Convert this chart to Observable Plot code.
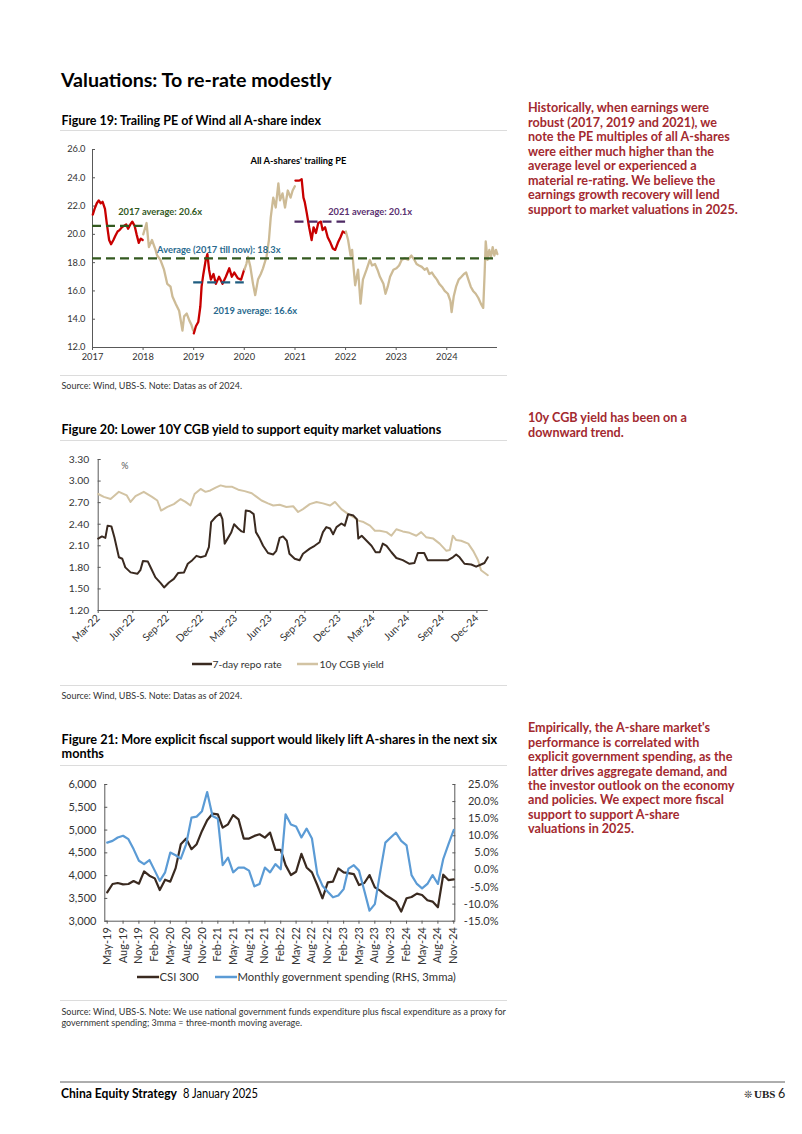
<!DOCTYPE html>
<html><head><meta charset="utf-8">
<script src="https://cdn.jsdelivr.net/npm/d3@7"></script>
<script src="https://cdn.jsdelivr.net/npm/@observablehq/plot@0.6"></script>
<style>
html,body{margin:0;padding:0;background:#fff;}
#page{position:relative;width:802px;height:1134px;overflow:hidden;font-family:Lato,"Open Sans",sans-serif;}
.chart{position:absolute;}
#overlay{position:absolute;left:0;top:0;}
</style></head>
<body><div id="page">
<svg id="overlay" width="802" height="1134" font-family="Lato, 'Open Sans', sans-serif">
  <text x="61" y="86.5" font-size="19.6" font-weight="700" fill="#000">Valuations: To re-rate modestly</text>
  <text x="61.5" y="125" font-size="12.5" font-weight="700" fill="#000">Figure 19: Trailing PE of Wind all A-share index</text>
  <line x1="60" x2="507" y1="130.5" y2="130.5" stroke="#dcdcdc"/>
  <line x1="60" x2="507" y1="375.5" y2="375.5" stroke="#dcdcdc"/>
  <text x="61.5" y="389" font-size="9" fill="#333">Source: Wind, UBS-S. Note: Datas as of 2024.</text>

  <text x="61.5" y="434" font-size="12.6" font-weight="700" fill="#000">Figure 20: Lower 10Y CGB yield to support equity market valuations</text>
  <line x1="60" x2="507" y1="440.5" y2="440.5" stroke="#dcdcdc"/>
  <line x1="192" x2="212" y1="664" y2="664" stroke="#3a2a20" stroke-width="2.5"/>
  <text x="212.5" y="667.5" font-size="10.3" fill="#333">7-day repo rate</text>
  <line x1="297" x2="318" y1="664" y2="664" stroke="#d2c3a3" stroke-width="2.5"/>
  <text x="319.5" y="667.5" font-size="10.3" fill="#333">10y CGB yield</text>
  <line x1="60" x2="507" y1="685.5" y2="685.5" stroke="#dcdcdc"/>
  <text x="61.5" y="699" font-size="9" fill="#333">Source: Wind, UBS-S. Note: Datas as of 2024.</text>

  <text x="61.5" y="744" font-size="12.7" font-weight="700" fill="#000">Figure 21: More explicit fiscal support would likely lift A-shares in the next six</text>
  <text x="61.5" y="758" font-size="12.7" font-weight="700" fill="#000">months</text>
  <line x1="60" x2="507" y1="765.5" y2="765.5" stroke="#dcdcdc"/>
  <line x1="137" x2="159" y1="977" y2="977" stroke="#3a2a20" stroke-width="2.5"/>
  <text x="159.5" y="980.5" font-size="11.3" fill="#333">CSI 300</text>
  <line x1="215" x2="237" y1="977" y2="977" stroke="#5b9bd5" stroke-width="2.5"/>
  <text x="237.5" y="980.5" font-size="11.3" fill="#333">Monthly government spending (RHS, 3mma)</text>
  <line x1="60" x2="507" y1="1000.5" y2="1000.5" stroke="#dcdcdc"/>
  <text x="61.5" y="1015" font-size="9" fill="#333">Source: Wind, UBS-S. Note: We use national government funds expenditure plus fiscal expenditure as a proxy for</text>
  <text x="61.5" y="1026" font-size="9" fill="#333">government spending; 3mma = three-month moving average.</text>

  <g font-size="12.6" font-weight="700" fill="#a32a30">
    <text x="528" y="112.3">Historically, when earnings were</text>
    <text x="528" y="126.8">robust (2017, 2019 and 2021), we</text>
    <text x="528" y="141.3">note the PE multiples of all A-shares</text>
    <text x="528" y="155.8">were either much higher than the</text>
    <text x="528" y="170.3">average level or experienced a</text>
    <text x="528" y="184.8">material re-rating. We believe the</text>
    <text x="528" y="199.3">earnings growth recovery will lend</text>
    <text x="528" y="213.8">support to market valuations in 2025.</text>
    <text x="528" y="422">10y CGB yield has been on a</text>
    <text x="528" y="436.5">downward trend.</text>
    <text x="528" y="732.3">Empirically, the A-share market's</text>
    <text x="528" y="746.7">performance is correlated with</text>
    <text x="528" y="761.1">explicit government spending, as the</text>
    <text x="528" y="775.5">latter drives aggregate demand, and</text>
    <text x="528" y="789.9">the investor outlook on the economy</text>
    <text x="528" y="804.3">and policies. We expect more fiscal</text>
    <text x="528" y="818.7">support to support A-share</text>
    <text x="528" y="833.1">valuations in 2025.</text>
  </g>

  <line x1="60" x2="785" y1="1082" y2="1082" stroke="#333" stroke-width="0.8"/>
  <text x="61" y="1098" font-size="12.5" font-weight="700" textLength="116" lengthAdjust="spacingAndGlyphs" fill="#000">China Equity Strategy</text>
  <text x="183" y="1098" font-size="12.5" textLength="75" lengthAdjust="spacingAndGlyphs" fill="#000">8 January 2025</text>
  <text x="744" y="1098" font-size="10" font-family="'DejaVu Sans',sans-serif" fill="#222">❊</text>
  <text x="754" y="1098" font-size="11" font-weight="700" font-family="'Liberation Serif',serif" fill="#222">UBS</text>
  <text x="778" y="1098" font-size="12.5" fill="#222">6</text>
</svg>
<div id="c1" class="chart" style="left:55px;top:140px"></div>
<div id="c2" class="chart" style="left:55px;top:450px"></div>
<div id="c3" class="chart" style="left:55px;top:775px"></div>
</div>
<script>
// ================= Figure 19: trailing PE =================
const peDates = [
"2017-01-03","2017-01-16","2017-02-01","2017-02-15","2017-03-01","2017-03-15","2017-04-01","2017-04-15","2017-05-01","2017-05-15","2017-06-01","2017-06-15","2017-07-01","2017-07-15","2017-08-01","2017-08-15","2017-09-01","2017-09-15","2017-10-01","2017-10-15","2017-11-01","2017-11-15","2017-12-01","2017-12-15","2017-12-29",
"2018-01-02","2018-01-26","2018-02-12","2018-03-06","2018-04-01","2018-04-12","2018-05-06","2018-06-01","2018-06-24","2018-07-18","2018-08-01","2018-08-24","2018-09-18","2018-10-12","2018-10-24","2018-11-12","2018-12-01","2018-12-16","2018-12-28",
"2019-01-02","2019-01-17","2019-02-03","2019-02-18","2019-02-27","2019-03-12","2019-03-29","2019-04-10","2019-04-22","2019-05-05","2019-05-24","2019-06-10","2019-07-03","2019-07-28","2019-08-21","2019-09-15","2019-10-03","2019-10-21","2019-11-15","2019-12-09","2019-12-31",
"2020-01-02","2020-01-16","2020-01-28","2020-02-14","2020-03-04","2020-03-20","2020-04-09","2020-04-29","2020-05-15","2020-06-09","2020-06-27","2020-07-10","2020-07-28","2020-08-15","2020-09-03","2020-09-15","2020-10-03","2020-10-21","2020-11-10","2020-11-30","2020-12-15","2020-12-31",
"2021-01-04","2021-02-01","2021-02-18","2021-03-03","2021-03-12","2021-03-27","2021-04-13","2021-05-01","2021-05-15","2021-06-01","2021-06-18","2021-07-07","2021-07-19","2021-08-06","2021-08-25","2021-09-14","2021-10-01","2021-10-18","2021-11-06","2021-11-25","2021-12-12","2021-12-31",
"2022-01-03","2022-01-19","2022-02-06","2022-02-17","2022-03-01","2022-03-11","2022-04-01","2022-04-19","2022-05-06","2022-06-01","2022-06-25","2022-07-11","2022-08-01","2022-08-19","2022-09-06","2022-10-01","2022-10-16","2022-11-01","2022-11-18","2022-12-12",
"2023-01-03","2023-01-22","2023-02-10","2023-03-04","2023-03-28","2023-04-21","2023-05-12","2023-05-28","2023-06-15","2023-07-05","2023-07-25","2023-08-11","2023-08-28","2023-09-16","2023-10-06","2023-10-22","2023-11-08","2023-11-27","2023-12-17",
"2024-01-09","2024-01-27","2024-02-05","2024-02-20","2024-03-08","2024-03-27","2024-04-16","2024-05-04","2024-05-20","2024-06-05","2024-06-22","2024-07-09","2024-07-28","2024-08-16","2024-09-03","2024-09-20","2024-09-30","2024-10-08","2024-10-21","2024-11-03","2024-11-15","2024-11-27","2024-12-09","2024-12-21","2024-12-31"];
const peValues = [
21.4,21.8,22.2,22.4,22.2,22.3,21.8,20.7,19.6,19.3,19.6,19.9,20.2,20.3,20.5,20.6,20.7,20.4,20.7,20.9,20.6,20.0,19.4,19.7,19.6,
20.0,20.8,19.1,19.6,18.9,18.5,18.2,17.5,16.5,16.3,15.6,15.1,14.6,13.2,14.2,14.4,13.9,13.6,13.2,
13.0,13.5,13.8,14.9,16.3,17.2,18.2,18.6,17.5,16.8,17.2,16.5,17.0,16.5,17.0,17.6,17.0,17.3,16.9,16.8,17.5,
17.5,17.9,18.4,17.7,16.5,15.7,16.8,17.2,17.6,18.4,19.6,21.2,22.6,21.9,23.6,22.4,22.9,21.9,23.1,22.6,23.1,23.4,
23.8,23.8,23.9,22.6,22.3,21.5,20.5,19.6,20.5,20.1,20.8,20.9,20.3,20.5,19.8,19.4,19.0,18.9,19.4,19.8,20.2,20.1,
20.2,19.6,18.5,18.9,17.5,16.4,17.5,15.1,16.8,17.5,18.2,17.8,17.9,17.5,17.0,16.5,15.8,16.3,17.0,17.5,
17.6,17.8,18.2,18.3,18.2,18.5,18.2,17.9,17.8,17.7,17.5,17.6,17.2,17.3,17.0,16.8,16.5,16.3,16.0,
15.8,15.3,14.5,15.6,16.3,16.8,17.0,17.2,17.3,16.8,16.3,16.0,15.8,15.5,15.1,14.8,17.2,19.5,18.2,18.9,18.4,19.1,18.5,18.9,18.6];
const highlightYears = [2017, 2019, 2021];
const peYearTicks = ["2017","2018","2019","2020","2021","2022","2023","2024"];
const peAxisTicks = [12,14,16,18,20,22,24,26];
const avgNames = ["2017 average: 20.6x","Average (2017 till now): 18.3x","2019 average: 16.6x","2021 average: 20.1x"];
const avgLevels = [20.6, 18.3, 16.6, 20.9];
const avgFrom = ["2017-01-01","2017-01-01","2019-01-01","2021-01-01"];
const avgTo = ["2018-01-01","2024-12-24","2020-01-01","2022-01-01"];
const peChartTitle = "All A-shares' trailing PE";

// ================= Figure 20: repo vs CGB =================
const repoDates = ["2022-03-01","2022-03-11","2022-03-20","2022-03-26","2022-04-05","2022-04-13","2022-04-25","2022-05-04","2022-05-12","2022-05-26","2022-06-13","2022-06-21","2022-06-28","2022-07-11","2022-07-20","2022-07-31","2022-08-14","2022-08-23","2022-09-05","2022-09-18","2022-09-29","2022-10-15","2022-10-25","2022-11-06","2022-11-17","2022-11-28","2022-12-11","2022-12-20","2022-12-26","2023-01-07","2023-01-19","2023-01-25","2023-01-31","2023-02-09","2023-02-17","2023-02-25","2023-03-08","2023-03-17","2023-03-23","2023-03-28","2023-04-08","2023-04-18","2023-04-24","2023-05-04","2023-05-13","2023-05-26","2023-06-09","2023-06-17","2023-06-26","2023-07-05","2023-07-15","2023-07-22","2023-08-05","2023-08-18","2023-08-27","2023-09-14","2023-09-27","2023-10-10","2023-10-19","2023-10-28","2023-11-07","2023-11-15","2023-11-24","2023-12-07","2023-12-16","2023-12-25","2024-01-08","2024-01-17","2024-01-21","2024-01-30","2024-02-12","2024-02-25","2024-03-07","2024-03-18","2024-03-26","2024-04-05","2024-04-18","2024-05-01","2024-05-18","2024-06-05","2024-06-18","2024-06-27","2024-07-14","2024-07-23","2024-08-15","2024-09-15","2024-09-28","2024-10-07","2024-10-16","2024-10-29","2024-11-16","2024-11-29","2024-12-12","2024-12-21","2024-12-30"];
const repoValues = [2.20,2.23,2.21,2.38,2.37,2.22,1.94,1.92,1.80,1.73,1.71,1.76,1.89,1.88,1.78,1.66,1.58,1.52,1.59,1.64,1.72,1.73,1.85,1.90,1.96,1.94,1.96,2.08,2.43,2.50,2.55,2.47,2.13,2.21,2.28,2.40,2.34,2.30,2.29,2.59,2.58,2.54,2.29,2.20,2.10,2.00,1.98,2.03,2.21,2.23,2.17,1.99,1.92,1.90,1.99,2.06,2.10,2.15,2.29,2.36,2.34,2.26,2.36,2.41,2.38,2.54,2.52,2.47,2.20,2.24,2.17,2.10,2.01,2.01,2.13,2.10,2.01,1.93,1.90,1.85,1.86,2.00,2.00,1.90,1.90,1.90,1.94,1.98,1.94,1.85,1.84,1.81,1.84,1.86,1.94];
const cgbDates = ["2022-03-01","2022-03-16","2022-04-03","2022-04-25","2022-05-16","2022-05-26","2022-06-08","2022-06-30","2022-07-22","2022-08-05","2022-08-15","2022-09-01","2022-09-18","2022-10-06","2022-10-19","2022-11-01","2022-11-12","2022-11-28","2022-12-11","2022-12-24","2023-01-07","2023-01-20","2023-02-03","2023-02-20","2023-03-08","2023-03-25","2023-04-13","2023-04-26","2023-05-09","2023-05-26","2023-06-09","2023-06-26","2023-07-14","2023-08-01","2023-08-14","2023-08-27","2023-09-14","2023-10-02","2023-10-19","2023-11-07","2023-11-20","2023-12-07","2023-12-25","2024-01-08","2024-01-21","2024-02-04","2024-02-21","2024-03-05","2024-03-18","2024-04-05","2024-04-18","2024-05-01","2024-05-18","2024-06-05","2024-06-23","2024-07-06","2024-07-19","2024-08-07","2024-08-24","2024-09-11","2024-09-20","2024-09-28","2024-10-07","2024-10-20","2024-11-08","2024-11-21","2024-12-04","2024-12-12","2024-12-30"];
const cgbValues = [2.82,2.78,2.75,2.85,2.80,2.71,2.79,2.85,2.78,2.73,2.59,2.64,2.68,2.75,2.71,2.66,2.82,2.89,2.85,2.87,2.91,2.94,2.92,2.92,2.88,2.86,2.83,2.78,2.73,2.69,2.66,2.67,2.64,2.65,2.57,2.61,2.68,2.71,2.69,2.66,2.71,2.61,2.54,2.50,2.45,2.43,2.38,2.31,2.31,2.29,2.24,2.33,2.30,2.28,2.24,2.29,2.22,2.20,2.13,2.03,2.04,2.24,2.18,2.17,2.13,2.03,1.90,1.76,1.69];
const yieldTicks = [1.2,1.5,1.8,2.1,2.4,2.7,3.0,3.3];
const quarterTicks = ["Mar-22","Jun-22","Sep-22","Dec-22","Mar-23","Jun-23","Sep-23","Dec-23","Mar-24","Jun-24","Sep-24","Dec-24"];

// ================= Figure 21: CSI 300 vs spending =================
const months = ["May-19","Jun-19","Jul-19","Aug-19","Sep-19","Oct-19","Nov-19","Dec-19","Jan-20","Feb-20","Mar-20","Apr-20","May-20","Jun-20","Jul-20","Aug-20","Sep-20","Oct-20","Nov-20","Dec-20","Jan-21","Feb-21","Mar-21","Apr-21","May-21","Jun-21","Jul-21","Aug-21","Sep-21","Oct-21","Nov-21","Dec-21","Jan-22","Feb-22","Mar-22","Apr-22","May-22","Jun-22","Jul-22","Aug-22","Sep-22","Oct-22","Nov-22","Dec-22","Jan-23","Feb-23","Mar-23","Apr-23","May-23","Jun-23","Jul-23","Aug-23","Sep-23","Oct-23","Nov-23","Dec-23","Jan-24","Feb-24","Mar-24","Apr-24","May-24","Jun-24","Jul-24","Aug-24","Sep-24","Oct-24","Nov-24"];
const csi300 = [3634,3816,3838,3809,3816,3882,3823,4093,3998,3940,3685,3911,3867,4165,4690,4813,4580,4690,4981,5214,5359,5345,5054,5126,5330,5236,4813,4813,4872,4908,4835,4944,4566,4566,4231,4013,4085,4478,4180,4071,3794,3503,3852,3867,4158,4071,4056,4034,3794,3838,4013,3743,3670,3576,3503,3430,3212,3503,3532,3605,3576,3459,3430,3306,4020,3903,3918];
const govSpending = [8.0,8.5,9.5,10.0,9.0,6.1,2.7,1.7,2.9,-0.2,-3.2,-0.7,5.1,4.3,3.3,7.5,15.3,15.6,17.2,22.8,15.8,15.0,1.4,3.6,-0.7,0.7,0.7,-0.2,-4.8,-4.1,0.7,-0.7,1.7,0.2,16.3,13.3,12.7,9.5,12.1,9.2,-1.2,-4.6,-6.4,-8.0,-7.5,-5.6,0.4,1.4,-0.2,-6.1,-11.9,-10.0,-0.7,8.0,9.5,10.9,8.5,7.2,-1.5,-4.1,-5.4,-4.1,-1.5,-4.1,3.2,7.5,11.7];
const csiTicks = [3000,3500,4000,4500,5000,5500,6000];
const rhsTicks = [-15,-10,-5,0,5,10,15,20,25];
const monthTicks = ["May-19","Aug-19","Nov-19","Feb-20","May-20","Aug-20","Nov-20","Feb-21","May-21","Aug-21","Nov-21","Feb-22","May-22","Aug-22","Nov-22","Feb-23","May-23","Aug-23","Nov-23","Feb-24","May-24","Aug-24","Nov-24"];

// ================= styles =================
const RED = "#c80000", TAN = "#cdbb96";
const avgColors = ["#33591f","#33591f","#1f5d80","#4e2a64"];
const avgLabelColors = ["#33591f","#2a6a8e","#2a6a8e","#5a3070"];
const avgLabelX = ["2017-07-05","2018-04-12","2019-05-22","2021-08-28"];
const avgLabelY = [21.55, 18.86, 14.61, 21.55];
const FONT = "Lato, 'Open Sans', sans-serif";
const AXIS = "#595959";

const d = s => new Date(s);
const pm = d3.utcParse("%b-%y");

// ---------- Chart 1 ----------
{
  const rows = peDates.map((s,i) => ({date: d(s), pe: peValues[i]}));
  let seg = 0, prev = null;
  for (const r of rows) {
    const y = r.date.getUTCFullYear();
    const hl = highlightYears.includes(y);
    const key = hl ? "h" + y : "base";
    if (key !== prev) { seg++; prev = key; }
    r.seg = seg; r.color = hl ? RED : TAN;
  }
  const avgRows = avgNames.map((n,i) => ({name: n, level: avgLevels[i], from: d(avgFrom[i]), to: d(avgTo[i]),
    color: avgColors[i], lcolor: avgLabelColors[i], lx: d(avgLabelX[i]), ly: avgLabelY[i]}));
  const x0 = d("2017-01-01"), x1 = d("2025-01-01");
  const p = Plot.plot({
    width: 450, height: 225, marginLeft: 37, marginRight: 8, marginTop: 9, marginBottom: 18,
    style: {fontFamily: FONT, fontSize: "9.3px", color: "#333", background: "none", overflow: "visible"},
    x: {type: "utc", domain: [x0, x1]},
    y: {domain: [12, 26]},
    color: {type: "identity"},
    marks: [
      Plot.axisY({ticks: peAxisTicks, tickFormat: v => v.toFixed(1), tickSize: -3, tickPadding: 10, label: null, stroke: AXIS}),
      Plot.axisX({ticks: peYearTicks.map(s => d(s + "-01-01")), tickFormat: "%Y", tickSize: 3, tickPadding: 3, label: null, stroke: AXIS}),
      Plot.ruleX([x0], {stroke: AXIS}),
      Plot.ruleY([12], {stroke: AXIS}),
      Plot.line(rows, {x: "date", y: "pe", z: "seg", stroke: "color", strokeWidth: 2.3}),
      Plot.ruleY(avgRows, {y: "level", x1: "from", x2: "to", stroke: "color", strokeWidth: 2.2, strokeDasharray: "9,5"}),
      Plot.text(avgRows, {x: "lx", y: "ly", text: "name", fill: "lcolor", textAnchor: "start", fontWeight: "bold", fontSize: 9.3}),
      Plot.text([peChartTitle], {x: d("2021-01-26"), y: 25.22, text: t => t, fill: "#000", fontWeight: "bold", fontSize: 9.3})
    ]
  });
  document.getElementById("c1").append(p);
}

// ---------- Chart 2 ----------
{
  const repo = repoDates.map((s,i) => ({date: d(s), v: repoValues[i]}));
  const cgb = cgbDates.map((s,i) => ({date: d(s), v: cgbValues[i]}));
  const x0 = d("2022-03-01"), x1 = d("2024-12-31");
  const p = Plot.plot({
    width: 450, height: 195, marginLeft: 42.7, marginRight: 17.3, marginTop: 9, marginBottom: 35,
    style: {fontFamily: FONT, fontSize: "10.3px", color: "#333", background: "none", overflow: "visible"},
    x: {type: "utc", domain: [x0, x1]},
    y: {domain: [1.2, 3.3]},
    marks: [
      Plot.axisY({ticks: yieldTicks, tickFormat: v => v.toFixed(2), tickSize: -3, tickPadding: 12, label: null, stroke: AXIS}),
      Plot.axisX({ticks: quarterTicks.map(pm), tickFormat: d3.utcFormat("%b-%y"), tickRotate: -45, tickSize: 3, tickPadding: 3, label: null, stroke: AXIS}),
      Plot.ruleX([x0], {stroke: AXIS}),
      Plot.ruleY([1.2], {stroke: AXIS}),
      Plot.line(cgb, {x: "date", y: "v", stroke: "#d2c3a3", strokeWidth: 2}),
      Plot.line(repo, {x: "date", y: "v", stroke: "#3a2a20", strokeWidth: 2}),
      Plot.text(["%"], {frameAnchor: "top-left", dx: 23, dy: 3, fontSize: 9, fill: "#555"})
    ]
  });
  document.getElementById("c2").append(p);
}

// ---------- Chart 3 ----------
{
  const lo = csiTicks[0], hi = csiTicks[csiTicks.length - 1];
  const rlo = rhsTicks[0], rhi = rhsTicks[rhsTicks.length - 1];
  const toLeft = v => lo + (v - rlo) / (rhi - rlo) * (hi - lo);
  const fromLeft = v => rlo + (v - lo) / (hi - lo) * (rhi - rlo);
  const rows = months.map((m,i) => ({date: pm(m), csi: csi300[i], gov: toLeft(govSpending[i])}));
  const x0 = d("2019-04-17"), x1 = d("2024-11-07");
  const p = Plot.plot({
    width: 450, height: 190, marginLeft: 49.3, marginRight: 50.7, marginTop: 9, marginBottom: 44.3,
    style: {fontFamily: FONT, fontSize: "11px", color: "#333", background: "none", overflow: "visible"},
    x: {type: "utc", domain: [x0, x1]},
    y: {domain: [lo, hi]},
    marks: [
      Plot.axisY({ticks: csiTicks, tickFormat: d3.format(","), tickSize: -3, tickPadding: 11.3, label: null, stroke: AXIS}),
      Plot.axisY({anchor: "right", ticks: rhsTicks.map(toLeft), tickFormat: v => fromLeft(v).toFixed(1) + "%", tickSize: -3, tickPadding: 46.7, textAnchor: "end", label: null, stroke: AXIS}),
      Plot.axisX({ticks: monthTicks.map(pm), tickFormat: d3.utcFormat("%b-%y"), tickRotate: -90, tickSize: 3, tickPadding: 3, label: null, stroke: AXIS}),
      Plot.ruleX([x0, x1], {stroke: AXIS}),
      Plot.ruleY([lo], {stroke: AXIS}),
      Plot.line(rows, {x: "date", y: "csi", stroke: "#3a2a20", strokeWidth: 2.2}),
      Plot.line(rows, {x: "date", y: "gov", stroke: "#5b9bd5", strokeWidth: 2.2})
    ]
  });
  document.getElementById("c3").append(p);
}
</script>
</body></html>
